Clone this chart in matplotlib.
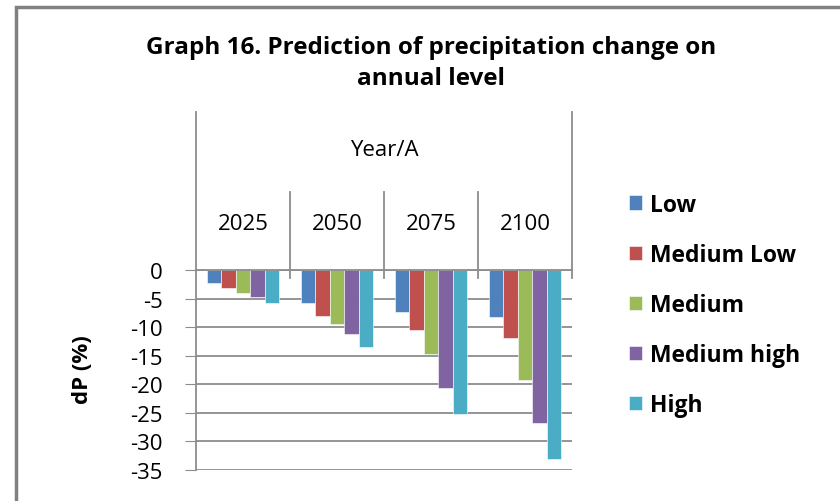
import numpy as np
import matplotlib.pyplot as plt
from matplotlib.patches import Rectangle

years = ['2025', '2050', '2075', '2100']
scenarios = ['Low', 'Medium Low', 'Medium', 'Medium high', 'High']
low = [-2.2, -5.8, -7.4, -8.2]
medium_low = [-3.1, -8.0, -10.4, -11.8]
medium = [-3.9, -9.4, -14.7, -19.2]
medium_high = [-4.7, -11.1, -20.6, -26.8]
high = [-5.8, -13.5, -25.2, -33.2]
series = [low, medium_low, medium, medium_high, high]
colors = ['#4F81BD', '#C0504D', '#9BBB59', '#8064A2', '#4BACC6']

plt.rcParams['font.family'] = ['Open Sans', 'DejaVu Sans']
grid_col = '#8c8c8c'

W, H = 840, 502
fig = plt.figure(figsize=(W / 100, H / 100), dpi=100)

# outer chart border
fig.patches.append(Rectangle((16 / W, -0.05), 1.1, (H - 8) / H + 0.05,
                             transform=fig.transFigure, fill=False,
                             edgecolor='#808080', linewidth=2.5))

# plot area in pixels
left, right, top, bottom = 196, 572, 271.3, 470.7
ax = fig.add_axes([left / W, (H - bottom) / H, (right - left) / W, (bottom - top) / H])

x = np.arange(len(years))
bw = 1 / 6.5
for i, (vals, name, c) in enumerate(zip(series, scenarios, colors)):
    ax.bar(x + (i - 2) * bw, vals, bw, color=c, label=name,
           edgecolor='white', linewidth=0.4, zorder=3)

ax.set_xlim(-0.5, 3.5)
ax.set_ylim(-35, 0)
ax.set_yticks(np.arange(-35, 1, 5))
ax.set_yticklabels([str(v) for v in np.arange(-35, 1, 5)], fontsize=16)
ax.tick_params(axis='y', length=8, color=grid_col, pad=16)
ax.set_xticks([])
ax.grid(axis='y', color=grid_col, linewidth=1.3, zorder=0)
for s in ['top', 'right', 'bottom']:
    ax.spines[s].set_visible(False)
ax.spines['left'].set_color(grid_col)
ax.spines['left'].set_linewidth(1.3)

ax.set_ylabel('dP (%)', fontsize=16, fontweight='bold')
ax.yaxis.set_label_coords((93 - left) / (right - left), (bottom - 370) / (bottom - top))

# category axis at the top (multi-level labels)
px = 35 / (bottom - top)
ax.plot([-0.5, 3.5], [0, 0], color=grid_col, lw=1.3, clip_on=False, zorder=4)
ax.plot([-0.5, -0.5], [0, (top - 113) * px], color=grid_col, lw=1.3, clip_on=False)
ax.plot([3.5, 3.5], [-8 * px, (top - 113) * px], color=grid_col, lw=1.3, clip_on=False)
for sep in [0.5, 1.5, 2.5]:
    ax.plot([sep, sep], [-8 * px, (top - 193) * px], color=grid_col, lw=1.3, clip_on=False)
for xi, yr in zip(x, years):
    ax.text(xi, (top - 225) * px, yr, ha='center', va='center', fontsize=16)
ax.text(1.5, (top - 151) * px, 'Year/A', ha='center', va='center', fontsize=16)

fig.text(431 / W, 1 - 48 / H, 'Graph 16. Prediction of precipitation change on',
         ha='center', va='center', fontsize=17.5, fontweight='bold')
fig.text(431 / W, 1 - 79 / H, 'annual level',
         ha='center', va='center', fontsize=17.5, fontweight='bold')

fig.legend(loc='upper left', bbox_to_anchor=(608 / W, 1 - 173 / H),
           frameon=False, handlelength=0.58, handleheight=0.58,
           handletextpad=0.35, labelspacing=1.14, prop={'weight': 'bold', 'size': 16.5})

fig.savefig('out.png', dpi=100)
